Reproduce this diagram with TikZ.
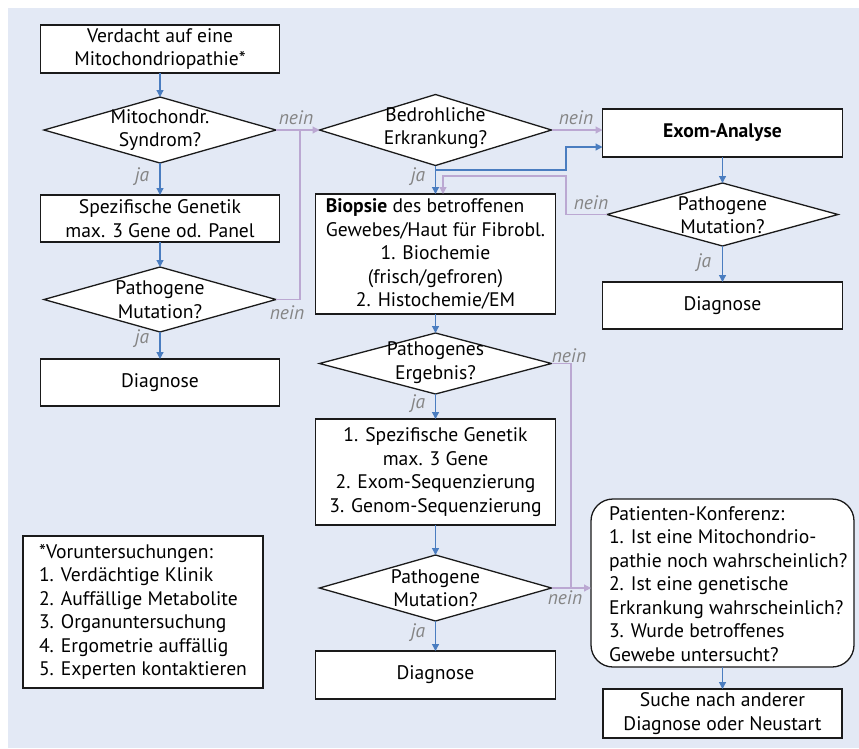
\documentclass[tikz,border=0pt]{standalone}
\usepackage{fontspec}
\setmainfont{PT Sans}
\usepackage{calc}
\usetikzlibrary{shapes.geometric,arrows.meta,calc}
\definecolor{bg}{HTML}{E3E9F5}
\definecolor{ablue}{HTML}{4A7DC0}
\definecolor{apurple}{HTML}{BBA8D2}
\definecolor{lgray}{HTML}{858585}
\definecolor{bord}{HTML}{1A1A1A}
\begin{document}
\begin{tikzpicture}[x=1pt,y=-1pt,
  every node/.style={font=\fontsize{19.6}{23.5}\selectfont, outer sep=0pt},
  box/.style={draw=bord, line width=1.3pt, fill=white, inner sep=0pt, align=center},
  dia/.style={draw=bord, line width=1.3pt, fill=white, shape=diamond, inner sep=0pt},
  dtxt/.style={align=center, inner sep=0pt},
  ltxt/.style={align=left, inner sep=0pt, anchor=west},
  bar/.style={draw=ablue, line width=1.2pt, -{Triangle[length=7pt,width=7pt]}},
  bline/.style={draw=ablue, line width=1.2pt},
  par/.style={draw=apurple, line width=1.2pt, -{Triangle[length=7pt,width=7pt]}},
  pline/.style={draw=apurple, line width=1.2pt},
  lbl/.style={text=lgray, font=\fontsize{19.5}{21}\selectfont\itshape, inner sep=0pt}
]
\useasboundingbox (0,0) rectangle (859,748);
\fill[bg] (8,8) rectangle (859,748);

% left column
\node[box, minimum width=239pt, minimum height=48pt] (v0) at (160,49) {Verdacht auf eine\\Mitochondriopathie*};
\node[dia, minimum width=232pt, minimum height=66pt] (d1) at (160,130) {};
\node[dtxt] (d1t) at (160,130) {Mitochondr.\\Syndrom?};
\node[box, minimum width=239pt, minimum height=47pt] (b1) at (160,218.5) {Spezifische Genetik\\max. 3 Gene od. Panel};
\node[dia, minimum width=232pt, minimum height=65pt] (d2) at (160,299.5) {};
\node[dtxt] (d2t) at (160,299.5) {Pathogene\\Mutation?};
\node[box, minimum width=239pt, minimum height=47pt] (g1) at (160,382.5) {Diagnose};

% middle column
\node[dia, minimum width=232pt, minimum height=71pt] (d3) at (435.5,130) {};
\node[dtxt] (d3t) at (435.5,128) {Bedrohliche\\Erkrankung?};
\node[box, minimum width=240pt, minimum height=120pt] (bi) at (435.5,254) {\makebox[\widthof{Gewebes/Haut für Fibrobl.}][l]{\textbf{Biopsie} des betroffenen}\\Gewebes/Haut für Fibrobl.\\1. Biochemie\\(frisch/gefroren)\\2. Histochemie/EM};
\node[dia, minimum width=232pt, minimum height=61pt] (d5) at (435.5,363.5) {};
\node[dtxt] (d5t) at (435.5,362.5) {Pathogenes\\Ergebnis?};
\node[box, minimum width=240pt, minimum height=106pt] (ge) at (435.5,472) {1. Spezifische Genetik\\max. 3 Gene\\2. Exom-Sequenzierung\\3. Genom-Sequenzierung};
\node[dia, minimum width=232pt, minimum height=66pt] (d6) at (435.5,588) {};
\node[dtxt] (d6t) at (435.5,588) {Pathogene\\Mutation?};
\node[box, minimum width=240pt, minimum height=48pt] (g3) at (435.5,675) {Diagnose};

% right column
\node[box, minimum width=240pt, minimum height=48pt, font=\fontsize{19.6}{23.5}\selectfont\bfseries] (ex) at (722.5,133) {Exom-Analyse};
\node[dia, minimum width=231pt, minimum height=63pt] (d4) at (722.5,214.5) {};
\node[dtxt] (d4t) at (722.5,215) {Pathogene\\Mutation?};
\node[box, minimum width=240pt, minimum height=47pt] (g2) at (722.5,305.5) {Diagnose};
\node[box, rounded corners=22pt, minimum width=263pt, minimum height=168pt] (pk) at (722.5,583) {};
\node[ltxt] (pkt) at (609,584) {Patienten-Konferenz:\\1. Ist eine Mitochondrio-\\pathie noch wahrscheinlich?\\2. Ist eine genetische\\Erkrankung wahrscheinlich?\\3. Wurde betroffenes\\Gewebe untersucht?};
\node[box, minimum width=239pt, minimum height=49pt] (su) at (722.5,713.5) {Suche nach anderer\\Diagnose oder Neustart};

% footnote box
\node[box, minimum width=240pt, minimum height=152pt] (vo) at (143,612) {};
\node[ltxt] (vot) at (39,612) {*Voruntersuchungen:\\1. Verdächtige Klinik\\2. Auffällige Metabolite\\3. Organuntersuchung\\4. Ergometrie auffällig\\5. Experten kontaktieren};

% coordinates
\coordinate (m1) at (300,130);
\coordinate (j1) at (435.5,170);
\coordinate (k1) at (566,147);
\coordinate (k2) at (566,176);
\coordinate (k3) at (443,176);
\coordinate (m2) at (571,363.5);

% connectors left
\draw[bar] (v0.south) -- (d1.north);
\draw[bar] (d1.south) -- (b1.north);
\draw[bar] (b1.south) -- (d2.north);
\draw[bar] (d2.south) -- (g1.north);
\draw[par] (d1.east) -- (d3.west);
\draw[pline] (d2.east) -| (m1);

% connectors middle/right
\draw[par] (d3.east) -- (d3.east -| ex.west);
\draw[bar] (d3.south) -- (bi.north);
\draw[bar] (j1) -| (k1) -- (k1 -| ex.west);
\draw[par] (d4.west) -| (k2) -- (k3) -- (k3 |- bi.north);
\draw[bar] (ex.south) -- (d4.north);
\draw[bar] (d4.south) -- (g2.north);
\draw[bar] (bi.south) -- (d5.north);
\draw[bar] (d5.south) -- (ge.north);
\draw[pline] (d5.east) -- (m2) -- (m2 |- d6.east);
\draw[par] (d6.east) -- (d6.east -| pk.west);
\draw[bar] (ge.south) -- (d6.north);
\draw[bar] (d6.south) -- (g3.north);
\draw[bar] (pk.south) -- (su.north);

% labels
\node[lbl] (l1) at (296,118) {nein};
\node[lbl] (l2) at (142,177) {ja};
\node[lbl] (l3) at (287,313) {nein};
\node[lbl] (l4) at (142,339) {ja};
\node[lbl] (l5) at (576,118) {nein};
\node[lbl] (l6) at (418,177) {ja};
\node[lbl] (l7) at (591,203) {nein};
\node[lbl] (l8) at (704,263) {ja};
\node[lbl] (l9) at (569,356) {nein};
\node[lbl] (l10) at (418,404) {ja};
\node[lbl] (l11) at (565,598) {nein};
\node[lbl] (l12) at (418,633) {ja};
\end{tikzpicture}
\end{document}
